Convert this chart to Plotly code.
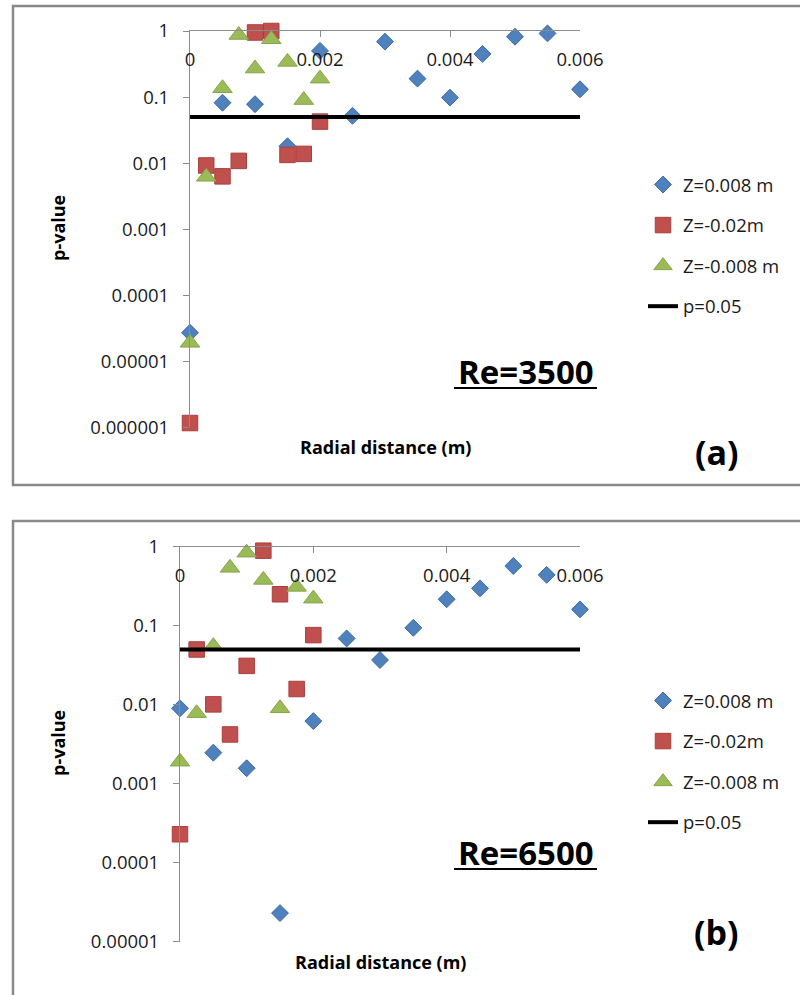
import plotly.graph_objects as go

# ---------------- data ----------------
x_tick_vals = [0, 0.002, 0.004, 0.006]
x_tick_text = ["0", "0.002", "0.004", "0.006"]
y_tick_vals_a = [1e-6, 1e-5, 1e-4, 1e-3, 1e-2, 1e-1, 1]
y_tick_text_a = ["0.000001", "0.00001", "0.0001", "0.001", "0.01", "0.1", "1"]
y_tick_vals_b = [1e-5, 1e-4, 1e-3, 1e-2, 1e-1, 1]
y_tick_text_b = ["0.00001", "0.0001", "0.001", "0.01", "0.1", "1"]

series_names = ["Z=0.008 m", "Z=-0.02m", "Z=-0.008 m"]
line_name = "p=0.05"

# (a) Re=3500
a_r_blue = [0, 0.0005, 0.001, 0.0015, 0.002, 0.0025, 0.003, 0.0035, 0.004, 0.0045, 0.005, 0.0055, 0.006]
a_p_blue = [2.7e-5, 0.082, 0.078, 0.018, 0.50, 0.052, 0.69, 0.19, 0.098, 0.45, 0.82, 0.92, 0.131]
a_r_red = [0, 0.00025, 0.0005, 0.00075, 0.001, 0.00125, 0.0015, 0.00175, 0.002]
a_p_red = [1.16e-6, 0.0092, 0.0063, 0.0108, 0.95, 1.0, 0.0133, 0.0138, 0.0425]
a_r_green = [0, 0.00025, 0.0005, 0.00075, 0.001, 0.00125, 0.0015, 0.00175, 0.002]
a_p_green = [1.9e-5, 0.0062, 0.136, 0.87, 0.27, 0.75, 0.34, 0.090, 0.19]

# (b) Re=6500
b_r_blue = [0, 0.0005, 0.001, 0.0015, 0.002, 0.0025, 0.003, 0.0035, 0.004, 0.0045, 0.005, 0.0055, 0.006]
b_p_blue = [0.0090, 0.00247, 0.00157, 2.3e-5, 0.0062, 0.069, 0.0368, 0.094, 0.216, 0.297, 0.57, 0.44, 0.161]
b_r_red = [0, 0.00025, 0.0005, 0.00075, 0.001, 0.00125, 0.0015, 0.00175, 0.002]
b_p_red = [0.000229, 0.050, 0.0101, 0.0042, 0.031, 0.89, 0.25, 0.0158, 0.076]
b_r_green = [0, 0.00025, 0.0005, 0.00075, 0.001, 0.00125, 0.0015, 0.00175, 0.002]
b_p_green = [0.0019, 0.0078, 0.055, 0.54, 0.84, 0.38, 0.0090, 0.31, 0.22]

p_line_x = [0, 0.006]
p_line_y = [0.05, 0.05]

# ---------------- styling ----------------
W, H = 800, 995
FONT = "Open Sans"
BLUE, BLUE_E = "#4F81BD", "#3D6BA3"
RED, RED_E = "#C0504D", "#A8403D"
GREEN, GREEN_E = "#9BBB59", "#86A548"
AXIS_C = "#8C8C8C"


def px(x):
    return x / W


def py(y):
    return 1 - y / H


fig = go.Figure()


def add_panel(xa, ya, leg, rb, pb, rr, pr, rg, pg):
    common = dict(xaxis=xa, yaxis=ya, legend=leg, mode="markers", cliponaxis=False)
    fig.add_trace(go.Scatter(x=rb, y=pb, name=series_names[0], legendgroup=leg + "a",
                             marker=dict(symbol="diamond", size=13, color=BLUE,
                                         line=dict(color=BLUE_E, width=1)), **common))
    fig.add_trace(go.Scatter(x=rr, y=pr, name=series_names[1], legendgroup=leg + "b",
                             marker=dict(symbol="square", size=15.5, color=RED,
                                         line=dict(color=RED_E, width=1)), **common))
    fig.add_trace(go.Scatter(x=rg, y=pg, name=series_names[2], legendgroup=leg + "c",
                             marker=dict(symbol="triangle-up", size=17, color=GREEN,
                                         line=dict(color=GREEN_E, width=1)), **common))
    fig.add_trace(go.Scatter(x=p_line_x, y=p_line_y, name=line_name, legendgroup=leg + "d",
                             xaxis=xa, yaxis=ya, legend=leg, mode="lines",
                             line=dict(color="black", width=4)))


add_panel("x", "y", "legend", a_r_blue, a_p_blue, a_r_red, a_p_red, a_r_green, a_p_green)
add_panel("x2", "y2", "legend2", b_r_blue, b_p_blue, b_r_red, b_p_red, b_r_green, b_p_green)

tickfont = dict(family=FONT, size=18.5, color="#1a1a1a")


def xaxis_cfg(domain, anchor):
    return dict(domain=domain, anchor=anchor, range=[0, 0.006], side="top",
                tickvals=x_tick_vals, ticktext=x_tick_text,
                ticks="inside", ticklen=6, tickcolor=AXIS_C,
                ticklabelposition="inside", ticklabeloverflow="allow",
                ticklabelstandoff=17, automargin=False,
                showline=True, linecolor=AXIS_C, linewidth=1.2,
                showgrid=False, zeroline=False, tickfont=tickfont, fixedrange=True)


def yaxis_cfg(domain, anchor, rng, vals, text):
    return dict(domain=domain, anchor=anchor, type="log", range=rng,
                tickvals=vals, ticktext=text,
                ticks="outside", ticklen=6, tickcolor=AXIS_C,
                ticklabelstandoff=10, automargin=False,
                showline=True, linecolor=AXIS_C, linewidth=1.2,
                showgrid=False, zeroline=False, tickfont=tickfont, fixedrange=True)


legend_common = dict(xanchor="left", yanchor="top", bgcolor="rgba(0,0,0,0)",
                     font=dict(family=FONT, size=18.5, color="#1a1a1a"),
                     tracegroupgap=13.5, traceorder="grouped")

fig.update_layout(
    width=W, height=H,
    margin=dict(l=0, r=0, t=0, b=0, autoexpand=False),
    paper_bgcolor="white", plot_bgcolor="white",
    font=dict(family=FONT, color="black"),
    xaxis=xaxis_cfg([px(190), px(580)], "y"),
    yaxis=yaxis_cfg([py(427.3), py(31)], "x", [-6, 0], y_tick_vals_a, y_tick_text_a),
    xaxis2=xaxis_cfg([px(180), px(580)], "y2"),
    yaxis2=yaxis_cfg([py(941.7), py(546.7)], "x2", [-5, 0], y_tick_vals_b, y_tick_text_b),
    legend=dict(x=px(643), y=py(166), **legend_common),
    legend2=dict(x=px(643), y=py(682), **legend_common),
    showlegend=True,
)

# outer chart frames
frame = dict(type="rect", xref="paper", yref="paper", line=dict(color="#8A8A8A", width=2.5),
             fillcolor="rgba(0,0,0,0)", layer="below")
fig.add_shape(x0=px(13), x1=1.05, y0=py(485), y1=py(6), **frame)
fig.add_shape(x0=px(13), x1=1.05, y0=-0.05, y1=py(521), **frame)

# underlines under Re labels
for yy in (388, 869):
    fig.add_shape(type="line", xref="paper", yref="paper",
                  x0=px(454), x1=px(597), y0=py(yy), y1=py(yy),
                  line=dict(color="black", width=2))

ann = []
title_font = dict(family=FONT, size=18, color="black")
for (xx, yy) in ((58, 228), (58, 743)):
    ann.append(dict(text="<b>p-value</b>", x=px(xx), y=py(yy), xref="paper", yref="paper",
                    showarrow=False, textangle=-90, font=title_font,
                    xanchor="center", yanchor="middle"))
for (xx, yy) in ((385, 447), (380, 962)):
    ann.append(dict(text="<b>Radial distance (m)</b>", x=px(xx), y=py(yy), xref="paper",
                    yref="paper", showarrow=False, font=title_font,
                    xanchor="center", yanchor="middle"))
for (txt, yy) in (("Re=3500", 371), ("Re=6500", 852)):
    ann.append(dict(text="<b>" + txt + "</b>", x=px(526), y=py(yy), xref="paper", yref="paper",
                    showarrow=False, font=dict(family=FONT, size=33, color="black"),
                    xanchor="center", yanchor="middle"))
for (txt, yy) in (("(a)", 452), ("(b)", 932)):
    ann.append(dict(text="<b>" + txt + "</b>", x=px(716.5), y=py(yy), xref="paper", yref="paper",
                    showarrow=False, font=dict(family=FONT, size=34, color="black"),
                    xanchor="center", yanchor="middle"))
fig.update_layout(annotations=ann)

fig.write_html("out.html")
